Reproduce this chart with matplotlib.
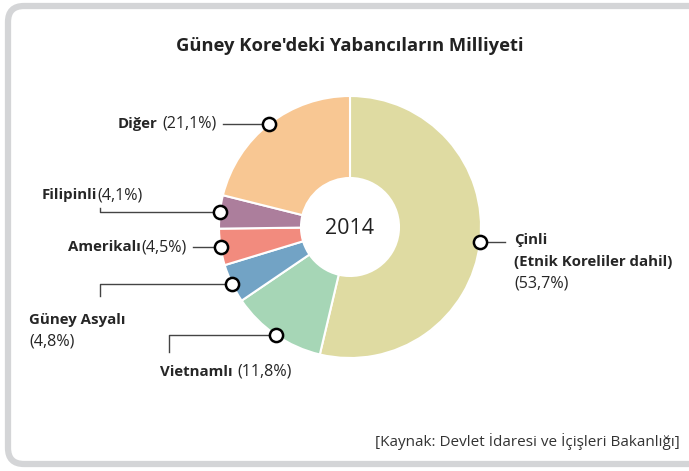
import matplotlib.pyplot as plt
from matplotlib.patches import FancyBboxPatch
import numpy as np

plt.rcParams['font.family'] = ['Open Sans', 'DejaVu Sans']

names = ['Çinli', 'Vietnamlı', 'Güney Asyalı', 'Amerikalı', 'Filipinli', 'Diğer']
shares = [53.7, 11.8, 4.8, 4.5, 4.1, 21.1]
pct_labels = ['(53,7%)', '(11,8%)', '(4,8%)', '(4,5%)', '(4,1%)', '(21,1%)']
colors = ['#dfdba2', '#a6d6b6', '#72a3c5', '#f28b7e', '#ac7e9c', '#f8c793']

title = "Güney Kore'deki Yabancıların Milliyeti"
center_text = '2014'
source = '[Kaynak: Devlet İdaresi ve İçişleri Bakanlığı]'

W, H = 689, 471
fig = plt.figure(figsize=(W / 100, H / 100), dpi=100)
ax = fig.add_axes([0, 0, 1, 1])
ax.set_xlim(0, W)
ax.set_ylim(H, 0)
ax.axis('off')

# gray rounded frame (runs off the right edge)
frame = FancyBboxPatch((8, 6), 700, 458, boxstyle='round,pad=0,rounding_size=16',
                       fc='white', ec='#d4d5d7', lw=4.5, zorder=0)
ax.add_patch(frame)

cx, cy, R = 350, 227, 131
# y axis is inverted, so counterclock in data = clockwise on screen
wedges, _ = ax.pie(shares, colors=colors, startangle=-90, counterclock=True,
                   center=(cx, cy), radius=R,
                   wedgeprops=dict(width=R - 49, edgecolor='white', linewidth=1.5))
ax.set_xlim(0, W)
ax.set_ylim(H, 0)
ax.set_aspect('auto')

ax.text(cx, cy + 2, center_text, ha='center', va='center', fontsize=15.5, color='#222222')

mk = {}
for w, n in zip(wedges, names):
    t = np.deg2rad((w.theta1 + w.theta2) / 2)
    mk[n] = (cx + R * np.cos(t), cy + R * np.sin(t))

lc = '#444444'
bold = dict(fontsize=10.8, fontweight='bold', color='#262626', va='center')
reg = dict(fontsize=11.6, color='#262626', va='center')

# Çinli
x, y = mk['Çinli']
ax.plot([x, 505], [y, y], color=lc, lw=1)
ax.text(514, 240, 'Çinli', ha='left', **bold)
ax.text(514, 262, '(Etnik Koreliler dahil)', ha='left', **bold)
ax.text(514, 284, pct_labels[0], ha='left', **reg)

# Vietnamlı
x, y = mk['Vietnamlı']
ax.plot([x, 169, 169], [y, y, y + 17], color=lc, lw=1)
ax.text(233, 372, names[1], ha='right', **bold)
ax.text(237, 372, pct_labels[1], ha='left', **reg)

# Güney Asyalı
x, y = mk['Güney Asyalı']
ax.plot([x, 100, 100], [y, y, y + 12], color=lc, lw=1)
ax.text(29, 320, names[2], ha='left', **bold)
ax.text(29, 341, pct_labels[2], ha='left', **reg)

# Amerikalı
x, y = mk['Amerikalı']
ax.plot([193, x], [y, y], color=lc, lw=1)
ax.text(141, y, names[3], ha='right', **bold)
ax.text(141, y, pct_labels[3], ha='left', **reg)

# Filipinli
x, y = mk['Filipinli']
ax.plot([100, 100, x], [208, y, y], color=lc, lw=1)
ax.text(97, 195, names[4], ha='right', **bold)
ax.text(97, 195, pct_labels[4], ha='left', **reg)

# Diğer
x, y = mk['Diğer']
ax.plot([223, x], [y, y], color=lc, lw=1)
ax.text(157, y, names[5], ha='right', **bold)
ax.text(162, y, pct_labels[5], ha='left', **reg)

for n in names:
    ax.plot(*mk[n], marker='o', ms=9.5, mfc='white', mec='black', mew=1.8, zorder=5)

ax.text(350, 46, title, ha='center', va='center', fontsize=13.2, fontweight='bold',
        color='#222222')
ax.text(680, 441, source, ha='right', va='center', fontsize=11, color='#333333')

fig.savefig('out.png', dpi=100)
